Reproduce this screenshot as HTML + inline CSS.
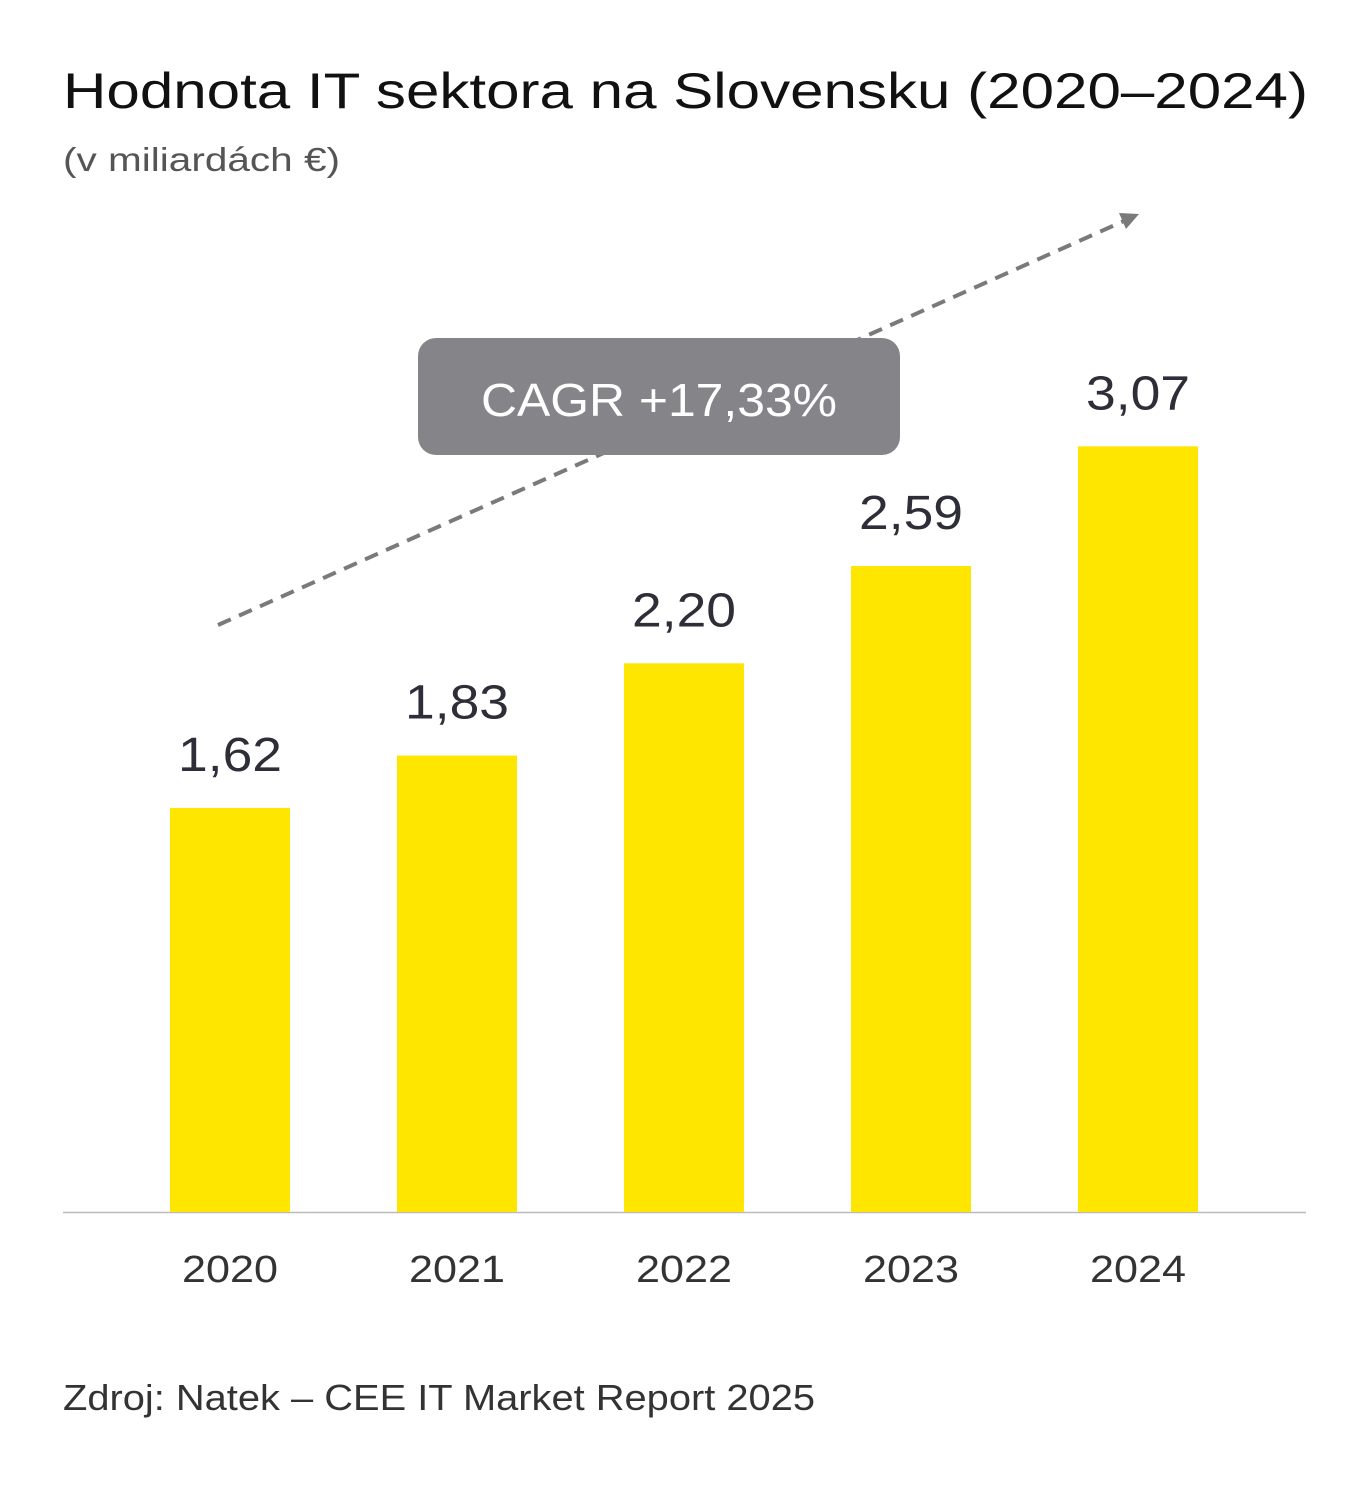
<!DOCTYPE html>
<html><head><meta charset="utf-8"><style>
body{margin:0;background:#fff}
svg{display:block}
text{font-family:"Liberation Sans",sans-serif}
</style></head><body>
<svg id="chart" width="1370" height="1500" viewBox="0 0 1370 1500">
<text x="63" y="108" font-size="50" fill="#111" textLength="1245" lengthAdjust="spacingAndGlyphs">Hodnota IT sektora na Slovensku (2020–2024)</text>
<text x="63" y="171" font-size="33" fill="#555" textLength="277" lengthAdjust="spacingAndGlyphs">(v miliardách €)</text>
<line x1="63" y1="1212.5" x2="1306" y2="1212.5" stroke="#bbb" stroke-width="1.5"/>
<g id="trend">
<line x1="218" y1="625" x2="1124" y2="221" stroke="#7a7a7a" stroke-width="4" stroke-dasharray="14,9"/>
<polygon points="1139,214 1126,229 1119,213" fill="#7a7a7a"/>
</g>
<rect x="418" y="338" width="482" height="117" rx="18" fill="#858589"/>
<text x="481" y="416" font-size="46" fill="#fff" textLength="356" lengthAdjust="spacingAndGlyphs">CAGR +17,33%</text>
<g id="bars"></g>
<text x="63" y="1410" font-size="36" fill="#333" textLength="752" lengthAdjust="spacingAndGlyphs">Zdroj: Natek – CEE IT Market Report 2025</text>
</svg>
<script>
const categories = ["2020","2021","2022","2023","2024"];
const values = [1.62,1.83,2.20,2.59,3.07];
const valueLabels = ["1,62","1,83","2,20","2,59","3,07"];
const NS="http://www.w3.org/2000/svg";
const baseY=1212, pxPerUnit=249.4, x0=170, step=227, bw=120;
function xPos(i){return x0+i*step;}
function yPos(v){return baseY-v*pxPerUnit;}
const g=document.getElementById('bars');
categories.forEach((c,i)=>{
  const r=document.createElementNS(NS,'rect');
  r.setAttribute('x',xPos(i));r.setAttribute('y',yPos(values[i]));
  r.setAttribute('width',bw);r.setAttribute('height',baseY-yPos(values[i]));
  r.setAttribute('fill','#ffe600');
  
  
  g.appendChild(r);
  const t=document.createElementNS(NS,'text');
  t.setAttribute('x',xPos(i)+bw/2-52);t.setAttribute('y',yPos(values[i])-37);
  t.setAttribute('font-size','48');t.setAttribute('fill','#2e2e38');
  t.setAttribute('textLength','104');t.setAttribute('lengthAdjust','spacingAndGlyphs');
  t.textContent=valueLabels[i];
  
  
  g.appendChild(t);
  const y=document.createElementNS(NS,'text');
  y.setAttribute('x',xPos(i)+bw/2-48);y.setAttribute('y',1282);
  y.setAttribute('font-size','38');y.setAttribute('fill','#333');
  y.setAttribute('textLength','96');y.setAttribute('lengthAdjust','spacingAndGlyphs');
  y.textContent=c;
  
  
  g.appendChild(y);
});
</script>
</body></html>
